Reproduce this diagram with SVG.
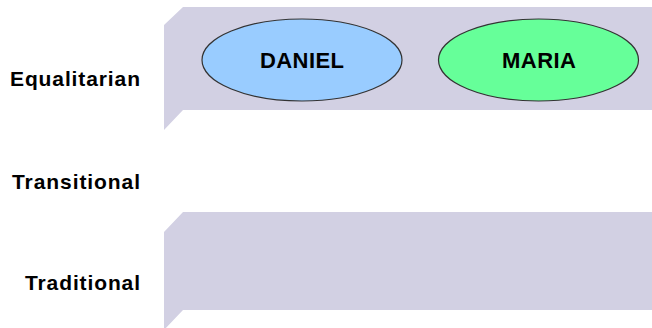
<svg xmlns="http://www.w3.org/2000/svg" width="652" height="328" viewBox="0 0 652 328">
<style>
.band{fill:#d2d0e3;}
.lbl{font-family:"Liberation Sans",Arial,sans-serif;font-weight:bold;font-size:21px;fill:#000;text-anchor:end;}
.nodeT{font-family:"Liberation Sans",Arial,sans-serif;font-weight:bold;font-size:22px;fill:#000;text-anchor:middle;}
.node{stroke:#333;stroke-width:1.2;}
</style>
<rect width="652" height="328" fill="#fff"/>
<g id="bands">
<polygon class="band" points="183,7 652,7 652,110 183,110 164,130 164,25"/>
<polygon class="band" points="183,212 652,212 652,310 183,310 164,330 164,232"/>
</g>
<g id="labels">
<text class="lbl" x="140" y="86" textLength="130" lengthAdjust="spacing">Equalitarian</text>
<text class="lbl" x="140" y="189" textLength="128" lengthAdjust="spacing">Transitional</text>
<text class="lbl" x="140" y="290" textLength="115" lengthAdjust="spacing">Traditional</text>
</g>
<g id="connectors"></g>
<g id="daniel">
<ellipse class="node" cx="302" cy="60" rx="100" ry="41" fill="#99ccff"/>
<text class="nodeT" x="302" y="68" textLength="84" lengthAdjust="spacing">DANIEL</text>
</g>
<g id="maria">
<ellipse class="node" cx="538.5" cy="60" rx="100" ry="41" fill="#66ff99"/>
<text class="nodeT" x="539" y="68" textLength="74" lengthAdjust="spacing">MARIA</text>
</g>
</svg>
